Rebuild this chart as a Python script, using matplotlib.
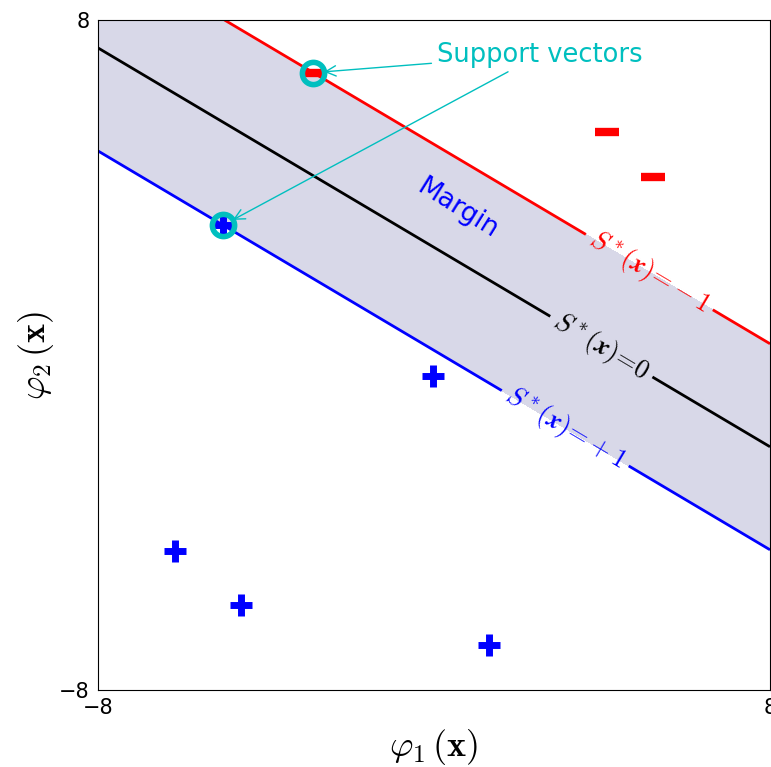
import numpy as np
import matplotlib
matplotlib.use("Agg")
import matplotlib.pyplot as plt

plt.rcParams['mathtext.fontset'] = 'cm'

# feature space points
pos_x = [-5.02, -0.02, -6.17, -4.60, 1.31]
pos_y = [3.10, -0.50, -4.69, -5.98, -6.93]
neg_x = [-2.88, 4.12, 5.21]
neg_y = [6.74, 5.33, 4.26]
sv_x = [-2.88, -5.02]
sv_y = [6.74, 3.10]

# decision function S(x) = w . x + b
w = [-0.242, -0.4065]
b = 1.045
levels = [-1, 0, 1]
level_labels = {-1: r'$S^*(\boldsymbol{x})\!=\!-1$',
                0: r'$S^*(\boldsymbol{x})\!=\!0$',
                1: r'$S^*(\boldsymbol{x})\!=\!+1$'}
label_pos = [(5.14, 2.0), (3.95, 0.14), (3.12, -1.76)]

lim = 8
g = np.linspace(-lim, lim, 400)
X1, X2 = np.meshgrid(g, g)
S = w[0] * X1 + w[1] * X2 + b

fig = plt.figure(figsize=(7.71, 7.67), dpi=100)
ax = fig.add_axes([0.127, 0.1004, 0.8717, 0.8736])

ax.contourf(X1, X2, S, levels=[-1, 1], colors=['#d8d8e8'])
cs = ax.contour(X1, X2, S, levels=levels, colors=['red', 'black', 'blue'], linewidths=2)
ax.clabel(cs, fmt=level_labels, fontsize=19, inline=True, inline_spacing=6, manual=label_pos)

ax.plot(pos_x, pos_y, '+', color='blue', markersize=16, mew=5)
ax.plot(neg_x, neg_y, '_', color='red', markersize=17, mew=6)
ax.plot(sv_x, sv_y, 'o', mfc='none', mec='c', markersize=16, mew=4)

for i, (sx, sy) in enumerate(zip(sv_x, sv_y)):
    ax.annotate('Support vectors', xy=(sx, sy), xytext=(2.52, 7.17),
                fontsize=18.5, color='c' if i == 0 else 'none',
                ha='center', va='center',
                arrowprops=dict(arrowstyle='->', color='c', lw=1, shrinkB=8))

ax.text(0.57, 3.5, 'Margin', color='blue', fontsize=19, rotation=-32,
        ha='center', va='center', rotation_mode='anchor')

ax.set_xlim(-lim, lim)
ax.set_ylim(-lim, lim)
ax.set_xticks([-lim, lim])
ax.set_xticklabels(['\u22128', '8'], fontsize=15)
ax.set_yticks([-lim, lim])
ax.set_yticklabels(['\u22128', '8'], fontsize=15)
ax.tick_params(length=0, pad=6)
ax.set_xlabel(r'$\varphi_1\,(\mathbf{x})$', fontsize=26, labelpad=6)
ax.set_ylabel(r'$\varphi_2\,(\mathbf{x})$', fontsize=26, labelpad=2)

fig.savefig('out.png', dpi=100)
